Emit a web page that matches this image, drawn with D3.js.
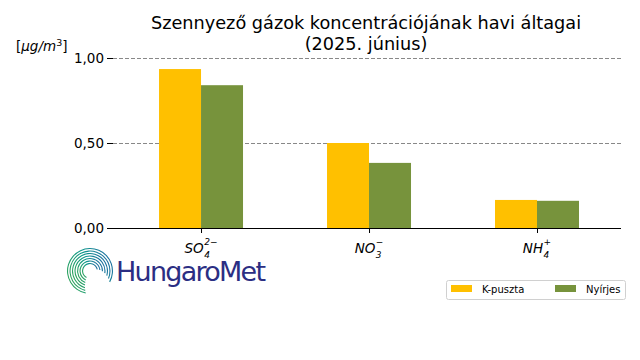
<!DOCTYPE html>
<html><head><meta charset="utf-8">
<script src="https://cdn.jsdelivr.net/npm/d3@7"></script>
<style>body{margin:0;background:#fff}svg{display:block}text{font-family:"DejaVu Sans",sans-serif}</style>
</head><body><svg id="c" width="640" height="360"></svg>
<script>
const categories = ["SO4","NO3","NH4"];
const catBase = ["SO","NO","NH"];
const catSub = ["4","3","4"];
const catSup = ["2−","−","+"];
const seriesNames = ["K-puszta","Nyírjes"];
const kpuszta = [0.935, 0.50, 0.165];
const nyirjes = [0.84, 0.383, 0.16];
const yTicks = [0, 0.5, 1.0];
const colors = ["#FFC000","#77933C"];

const svg = d3.select("#c");
const L = 113, R = 621, T = 58, B = 228;
const x = d3.scaleLinear().domain([-0.524, 2.5]).range([L, R]);
const y = d3.scaleLinear().domain([0, 1]).range([B, T]);
const bw = 0.25;

// grid
svg.append("g").selectAll("line").data(yTicks.filter(d=>d>0)).join("line")
  .attr("x1", L).attr("x2", R).attr("y1", d=>y(d)+0.5).attr("y2", d=>y(d)+0.5)
  .attr("stroke", "#7a7a7a").attr("stroke-width", 0.9).attr("stroke-dasharray", "4,2");

const series = [kpuszta, nyirjes];
series.forEach((vals, s) => {
  svg.append("g").selectAll("rect").data(vals).join("rect")
    .attr("x", (d,i) => x(i - bw + s*bw))
    .attr("width", x(bw) - x(0))
    .attr("y", d => y(d)).attr("height", d => y(0) - y(d))
    .attr("fill", colors[s]);
});

// y axis
const yAxis = d3.axisLeft(y).tickValues(yTicks).tickSize(6).tickPadding(3)
  .tickFormat(d => d3.format(".2f")(d).replace(".", ","));
const gy = svg.append("g").attr("transform", `translate(${L},0)`).call(yAxis);
gy.select(".domain").remove();
gy.selectAll("text").attr("font-size", 13.5).attr("fill", "#000").attr("font-family","DejaVu Sans");
gy.selectAll("line").attr("stroke", "#000");

// x axis
const xAxis = d3.axisBottom(x).tickValues([0,1,2]).tickSize(5).tickFormat("");
const gx = svg.append("g").attr("transform", `translate(0,${B})`).call(xAxis);
gx.select(".domain").attr("d", `M${L},0.5H${R}`).attr("stroke","#000").attr("stroke-width",1.1);
gx.selectAll("line").attr("stroke", "#000");
categories.forEach((c, i) => {
  const g = svg.append("g");
  const base = g.append("text").attr("y", 253).attr("font-size", 13.5).attr("font-style", "italic").text(catBase[i]);
  const bwid = base.node().getComputedTextLength();
  const sub = g.append("text").attr("x", bwid + 0.5).attr("y", 258).attr("font-size", 9).attr("font-style","italic").text(catSub[i]);
  const sup = g.append("text").attr("x", bwid + 0.5).attr("y", 245).attr("font-size", 9).attr("font-style","italic").text(catSup[i]);
  const w = bwid + 0.5 + Math.max(sub.node().getComputedTextLength(), sup.node().getComputedTextLength());
  g.attr("transform", `translate(${x(i) - w/2},0)`);
});

// title
svg.append("text").attr("x", 366).attr("y", 29).attr("text-anchor","middle").attr("font-size",17.7).text("Szennyező gázok koncentrációjának havi áltagai");
svg.append("text").attr("x", 366).attr("y", 50).attr("text-anchor","middle").attr("font-size",17.7).text("(2025. június)");

// unit
const u = svg.append("text").attr("x", 16).attr("y", 51).attr("font-size", 13.5);
u.append("tspan").text("[");
u.append("tspan").attr("font-style","italic").text("μg/m");
u.append("tspan").attr("dy",-5).attr("font-size",9.5).text("3");
u.append("tspan").attr("dy",5).text("]");

// legend
const lg = svg.append("g").attr("transform","translate(446,280)");
lg.append("rect").attr("x",0.5).attr("y",0.5).attr("width",179).attr("height",19).attr("rx",2)
  .attr("fill","#fff").attr("stroke","#d0d0d0");
seriesNames.forEach((n, i) => {
  const ox = i === 0 ? 5 : 109;
  lg.append("rect").attr("x", ox).attr("y", 5).attr("width", 21).attr("height", 7).attr("fill", colors[i]);
  lg.append("text").attr("x", ox + 31).attr("y", 13).attr("font-size", 10).text(n);
});

// logo
const logo = svg.append("g").attr("transform","translate(90,271)");
const grad = svg.append("defs").append("linearGradient").attr("id","lg1")
  .attr("x1","0").attr("y1","1").attr("x2","1").attr("y2","0");
grad.append("stop").attr("offset","0").attr("stop-color","#1f5fa8");
grad.append("stop").attr("offset","0.5").attr("stop-color","#0f9a8a");
grad.append("stop").attr("offset","1").attr("stop-color","#3aa64a");
const arc = d3.arc();
[23,20.5,18,15.5,13,10.5,8].forEach((r,k) => {
  logo.append("path").attr("d", arc({innerRadius:r-1.1, outerRadius:r, startAngle: -Math.PI*0.05 + k*0.05, endAngle: Math.PI*1.55 - k*0.12}))
    .attr("fill","url(#lg1)").attr("transform","rotate(200)");
});
svg.append("text").attr("x",116).attr("y",281).attr("font-family","Lato, sans-serif").attr("font-size",27)
  .attr("fill","#2b2e83").attr("textLength",150).text("HungaroMet");
</script></body></html>
